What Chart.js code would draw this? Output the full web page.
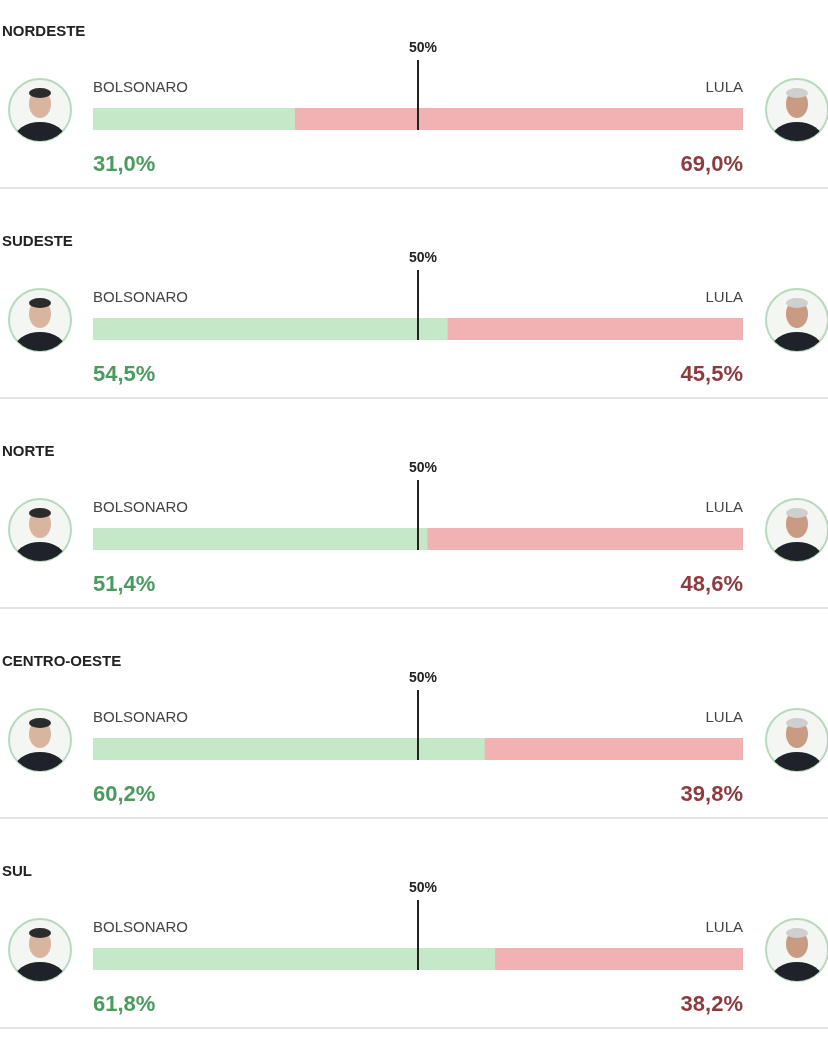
<!DOCTYPE html>
<html lang="pt">
<head>
  <meta charset="UTF-8" />
  <script src="https://cdn.jsdelivr.net/npm/chart.js"></script>
  <style>
    body { margin: 0; background: #fff; width: 828px; height: 1057px; overflow: hidden; }
    .panel { position: absolute; left: 0; width: 828px; height: 210px; }
  </style>
</head>
<body>
  <div id="wrap"></div>
  <script>
    const regions = ['NORDESTE', 'SUDESTE', 'NORTE', 'CENTRO-OESTE', 'SUL'];
    const bolsonaro = [31.0, 54.5, 51.4, 60.2, 61.8];
    const lula = [69.0, 45.5, 48.6, 39.8, 38.2];

    const fmt = v => v.toFixed(1).replace('.', ',') + '%';

    function face(ctx, cx, cy, skin, hair) {
      ctx.save();
      ctx.beginPath(); ctx.arc(cx, cy, 31, 0, Math.PI * 2);
      ctx.fillStyle = '#f4f6f4'; ctx.fill();
      ctx.lineWidth = 2; ctx.strokeStyle = '#b9d9bd'; ctx.stroke();
      ctx.clip();
      ctx.fillStyle = '#1f2228';
      ctx.beginPath(); ctx.ellipse(cx, cy + 30, 26, 18, 0, 0, Math.PI * 2); ctx.fill();
      ctx.fillStyle = skin;
      ctx.beginPath(); ctx.ellipse(cx, cy - 6, 11, 14, 0, 0, Math.PI * 2); ctx.fill();
      ctx.fillStyle = hair;
      ctx.beginPath(); ctx.ellipse(cx, cy - 17, 11, 5, 0, 0, Math.PI * 2); ctx.fill();
      ctx.restore();
    }

    const labels = {
      id: 'labels',
      afterDraw(chart) {
        const ctx = chart.ctx, x = chart.scales.x, i = chart.options.idx;
        const a = chart.chartArea;
        ctx.save();
        ctx.fillStyle = '#222';
        ctx.font = 'bold 15px "Liberation Sans", Arial';
        ctx.textBaseline = 'middle';
        ctx.fillText(regions[i], 2, 32);
        ctx.font = '15px "Liberation Sans", Arial';
        ctx.fillStyle = '#444';
        ctx.fillText('BOLSONARO', 93, 88);
        ctx.textAlign = 'right';
        ctx.fillText('LULA', 743, 88);
        const mx = x.getPixelForValue(50);
        ctx.textAlign = 'center';
        ctx.fillStyle = '#222';
        ctx.font = 'bold 14px "Liberation Sans", Arial';
        ctx.fillText('50%', mx + 5, 48);
        ctx.strokeStyle = '#222'; ctx.lineWidth = 2;
        ctx.beginPath(); ctx.moveTo(mx, 60); ctx.lineTo(mx, a.bottom); ctx.stroke();
        ctx.font = 'bold 22px "Liberation Sans", Arial';
        ctx.textAlign = 'left'; ctx.fillStyle = '#4a9b5f';
        ctx.fillText(fmt(bolsonaro[i]), 93, 165);
        ctx.textAlign = 'right'; ctx.fillStyle = '#8e3b3f';
        ctx.fillText(fmt(lula[i]), 743, 165);
        ctx.strokeStyle = '#e4e4e4'; ctx.lineWidth = 2;
        ctx.beginPath(); ctx.moveTo(0, 188); ctx.lineTo(828, 188); ctx.stroke();
        face(ctx, 40, 110, '#d9b5a0', '#2b2b2b');
        face(ctx, 797, 110, '#c99b82', '#cfcfcf');
        ctx.restore();
      }
    };

    regions.forEach((r, i) => {
      const d = document.createElement('div');
      d.className = 'panel';
      d.style.top = (i * 210) + 'px';
      const c = document.createElement('canvas');
      c.width = 828; c.height = 210;
      d.appendChild(c);
      document.getElementById('wrap').appendChild(d);
      new Chart(c, {
        type: 'bar',
        data: {
          labels: [r],
          datasets: [
            { label: 'BOLSONARO', data: [bolsonaro[i]], backgroundColor: '#c5e9c8' },
            { label: 'LULA', data: [lula[i]], backgroundColor: '#f0b2b2' }
          ]
        },
        options: {
          idx: i,
          indexAxis: 'y',
          responsive: false,
          animation: false,
          devicePixelRatio: 1,
          barPercentage: 1,
          categoryPercentage: 1,
          layout: { padding: { left: 93, right: 85, top: 108, bottom: 80 } },
          plugins: { legend: { display: false }, tooltip: { enabled: false } },
          scales: {
            x: { stacked: true, min: 0, max: 100, display: false },
            y: { stacked: true, display: false }
          }
        },
        plugins: [labels]
      });
    });
  </script>
</body>
</html>
